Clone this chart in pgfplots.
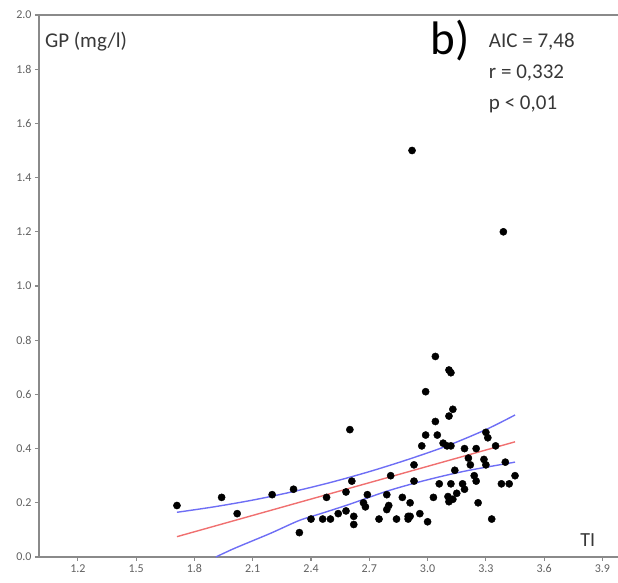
\documentclass[border=0pt]{standalone}
\usepackage{fontspec}
\setmainfont{Carlito}
\usepackage{pgfplots}
\pgfplotsset{compat=1.18}
\definecolor{axgray}{HTML}{8A8A8A}
\definecolor{lblgray}{HTML}{606060}
\definecolor{txtgray}{HTML}{383838}
\definecolor{fitred}{HTML}{F07070}
\definecolor{bandblue}{HTML}{6E6EF5}
\begin{document}
\begin{tikzpicture}
\begin{axis}[
  name=ax,
  scale only axis,
  width=579pt, height=542pt,
  xmin=1.0, xmax=3.98, ymin=0, ymax=2.0,
  axis x line*=bottom, axis y line*=left,
  axis line style={axgray, line width=1.8pt, -},
  xtick={1.2,1.5,1.8,2.1,2.4,2.7,3.0,3.3,3.6,3.9},
  ytick={0,0.2,0.4,0.6,0.8,1.0,1.2,1.4,1.6,1.8,2.0},
  tick align=outside,
  major tick length=4pt,
  tick style={axgray, line width=1.2pt},
  /pgf/number format/assume math mode=true,
  /pgf/number format/.cd, fixed, fixed zerofill, precision=1,
  /pgfplots/.cd,
  ticklabel style={font=\fontsize{12}{14}\selectfont, text=lblgray},
  clip=false,
]
\draw[axgray, line width=1.8pt] (rel axis cs:0,1) -- (rel axis cs:1,1);

\addplot[only marks, mark=*, mark size=3.6pt, black] coordinates {
(1.71,0.19) (1.94,0.22) (2.02,0.16) (2.20,0.23) (2.31,0.25) (2.34,0.09)
(2.40,0.14) (2.46,0.14) (2.50,0.14) (2.48,0.22) (2.54,0.16) (2.58,0.17)
(2.58,0.24) (2.61,0.28) (2.62,0.15) (2.62,0.12) (2.60,0.47) (2.67,0.20)
(2.68,0.185) (2.69,0.23) (2.75,0.14) (2.79,0.23) (2.81,0.30) (2.80,0.19)
(2.79,0.175) (2.84,0.14) (2.87,0.22) (2.91,0.20) (2.90,0.15) (2.90,0.14)
(2.93,0.34) (2.93,0.28) (2.96,0.16) (3.00,0.13) (2.97,0.41) (2.99,0.45)
(3.05,0.45) (3.04,0.50) (3.03,0.22) (3.06,0.27) (3.08,0.42) (3.10,0.41)
(3.12,0.41) (3.11,0.52) (3.13,0.545) (3.105,0.223) (3.11,0.204) (3.13,0.213)
(3.14,0.32) (3.12,0.27) (3.15,0.235) (3.18,0.27) (3.19,0.25) (3.19,0.40)
(3.21,0.365) (3.22,0.34) (3.24,0.30) (3.25,0.28) (3.25,0.40) (3.26,0.20)
(3.29,0.36) (3.30,0.34) (3.30,0.46) (3.31,0.44) (3.33,0.14) (3.35,0.41)
(3.38,0.27) (3.42,0.27) (3.40,0.35) (3.45,0.30) (3.04,0.74) (3.11,0.69)
(3.12,0.68) (2.99,0.61) (2.92,1.50) (3.39,1.20) (2.91,0.15)
};

\addplot[fitred, line width=1.4pt, no marks] coordinates {(1.71,0.075) (3.45,0.425)};
\addplot[bandblue, line width=1.4pt, no marks, smooth] coordinates {
(1.71,0.165) (1.9,0.185) (2.1,0.21) (2.3,0.24) (2.5,0.275) (2.7,0.315)
(2.9,0.36) (3.1,0.41) (3.3,0.47) (3.45,0.524)};
\addplot[bandblue, line width=1.4pt, no marks, smooth] coordinates {
(1.91,0.0) (2.0,0.03) (2.1,0.06) (2.2,0.09) (2.34,0.135) (2.45,0.16)
(2.6,0.195) (2.8,0.245) (3.0,0.285) (3.2,0.318) (3.45,0.35)};

\node[anchor=west, inner sep=0, text=txtgray, font=\fontsize{21}{24}\selectfont] at (axis cs:1.03,1.90) {GP (mg/l)};
\node[inner sep=0, font=\fontsize{47}{50}\selectfont] at (axis cs:3.115,1.905) {b)};
\node[anchor=north west, inner sep=0, align=left, text=txtgray, font=\fontsize{21}{31}\selectfont] at (axis cs:3.315,1.934) {AIC = 7,48\\r = 0,332\\p < 0,01};
\node[inner sep=0, text=txtgray, font=\fontsize{20}{22}\selectfont] at (axis cs:3.824,0.063) {TI};
\end{axis}
\pgfresetboundingbox
\path[use as bounding box] ([shift={(-39pt,-26pt)}]ax.south west) rectangle ++(618pt,583pt);
\end{tikzpicture}
\end{document}
